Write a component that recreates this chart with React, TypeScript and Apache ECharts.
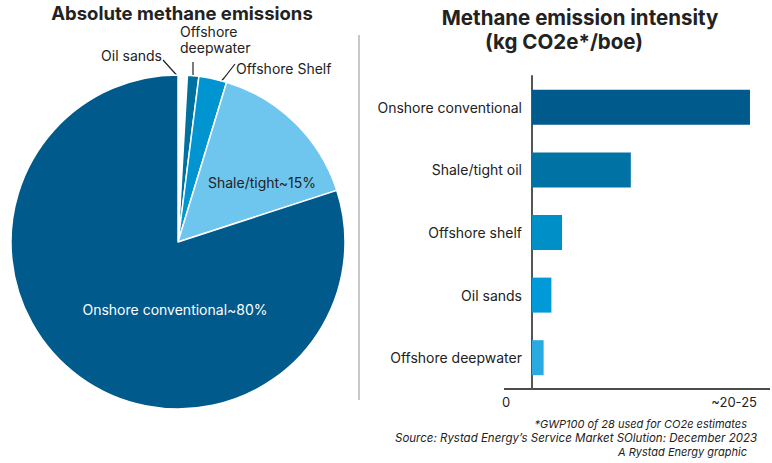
import React, { useEffect, useRef } from 'react';
import * as echarts from 'echarts';

const pieNames = ['Oil sands', 'Offshore\ndeepwater', 'Offshore Shelf', 'Shale/tight~15%', 'Onshore conventional~80%'];
const pieValues = [0.9, 1.1, 2.7, 15.3, 80];
const pieColors = ['#ffffff', '#00709f', '#0094d0', '#6ec6ee', '#005a8c'];

const barCategories = ['Onshore conventional', 'Shale/tight oil', 'Offshore shelf', 'Oil sands', 'Offshore deepwater'];
const barValues = [22.5, 10.2, 3.1, 2.0, 1.2];
const barColors = ['#005a8c', '#0072a3', '#0090c8', '#009ad8', '#29abe2'];

const xTickLabels = ['0', '~20-25'];
const titles = ['Absolute methane emissions', 'Methane emission intensity', '(kg CO2e*/boe)'];
const footnotes = [
  '*GWP100 of 28 used for CO2e estimates',
  'Source: Rystad Energy\u2019s Service Market SOlution: December 2023',
  'A Rystad Energy graphic',
];

const FONT = 'Inter, "Noto Sans", sans-serif';

const pieLabelLayout: any[] = [
  { x: 162, y: 55, align: 'right', pts: [[182, 81], [172, 70], [163, 60]] },
  { x: 180, y: 39.5, align: 'left', pts: [[193, 84], [193, 73], [193, 62]] },
  { x: 236, y: 68, align: 'left', pts: [[212, 92], [224, 78], [235, 64]] },
  { x: 262, y: 182, align: 'center' },
  { x: 175, y: 309, align: 'center' },
];

export default function App() {
  const ref = useRef<HTMLDivElement>(null);
  useEffect(() => {
    document.body.style.margin = '0';
    const chart = echarts.init(ref.current!, null, { renderer: 'svg' });
    const titleStyle = (size: number) => ({ fontSize: size, fontWeight: 'bold', fill: '#222', fontFamily: FONT, textAlign: 'center', textVerticalAlign: 'middle' });
    const option: any = {
      animation: false,
      backgroundColor: '#ffffff',
      textStyle: { fontFamily: FONT },
      grid: { left: 532, top: 76, width: 232.5, height: 313, containLabel: false },
      xAxis: {
        type: 'value', min: 0, max: 24,
        axisLine: { show: false }, axisTick: { show: false }, axisLabel: { show: false }, splitLine: { show: false },
      },
      yAxis: {
        type: 'category', inverse: true, data: barCategories,
        axisLine: { show: true, lineStyle: { color: '#555', width: 2 } },
        axisTick: { show: false },
        axisLabel: { color: '#222', fontSize: 14, margin: 10, fontFamily: FONT },
      },
      series: [
        {
          type: 'bar',
          barWidth: 35,
          data: barValues.map((v, i) => ({ value: v, itemStyle: { color: barColors[i] } })),
        },
        {
          type: 'pie',
          center: [178, 242],
          radius: 167,
          startAngle: 90,
          clockwise: true,
          avoidLabelOverlap: false,
          itemStyle: { borderColor: '#ffffff', borderWidth: 1.5 },
          data: pieValues.map((v, i) => ({
            value: v,
            name: pieNames[i],
            itemStyle: { color: pieColors[i] },
            label: {
              show: true,
              position: i < 3 ? 'outside' : 'inside',
              color: i === 4 ? '#ffffff' : '#222',
              fontSize: 14,
              lineHeight: 16,
              fontFamily: FONT,
              formatter: '{b}',
            },
            labelLine: { show: i < 3, lineStyle: { color: '#222', width: 1.2 } },
          })),
          labelLayout: (params: any) => {
            const p = pieLabelLayout[params.dataIndex];
            const r: any = { x: p.x, y: p.y, align: p.align, verticalAlign: 'middle' };
            if (p.pts) r.labelLinePoints = p.pts;
            return r;
          },
        },
      ],
      graphic: [
        { type: 'text', x: 182, y: 12.5, style: { text: titles[0], ...titleStyle(18.5) } },
        { type: 'text', x: 580, y: 17, style: { text: titles[1], ...titleStyle(20.5) } },
        { type: 'text', x: 564, y: 41, style: { text: titles[2], ...titleStyle(20.5) } },
        { type: 'line', shape: { x1: 359, y1: 35, x2: 359, y2: 400 }, style: { stroke: '#c8c8c8', lineWidth: 2 } },
        { type: 'line', shape: { x1: 504, y1: 389, x2: 770, y2: 389 }, style: { stroke: '#111', lineWidth: 1.5 } },
        { type: 'text', x: 506, y: 402, style: { text: xTickLabels[0], fill: '#222', fontSize: 13, fontFamily: FONT, textAlign: 'center', textVerticalAlign: 'middle' } },
        { type: 'text', x: 757, y: 402, style: { text: xTickLabels[1], fill: '#222', fontSize: 13, fontFamily: FONT, textAlign: 'right', textVerticalAlign: 'middle' } },
        { type: 'text', x: 747, y: 424, style: { text: footnotes[0], fill: '#222', fontSize: 11, fontStyle: 'italic', fontFamily: FONT, textAlign: 'right', textVerticalAlign: 'middle' } },
        { type: 'text', x: 757, y: 438, style: { text: footnotes[1], fill: '#222', fontSize: 11.5, fontStyle: 'italic', fontFamily: FONT, textAlign: 'right', textVerticalAlign: 'middle' } },
        { type: 'text', x: 747, y: 452, style: { text: footnotes[2], fill: '#222', fontSize: 11, fontStyle: 'italic', fontFamily: FONT, textAlign: 'right', textVerticalAlign: 'middle' } },
      ],
    };
    chart.setOption(option);
    return () => chart.dispose();
  }, []);
  return <div ref={ref} style={{ width: 772, height: 463 }} />;
}
